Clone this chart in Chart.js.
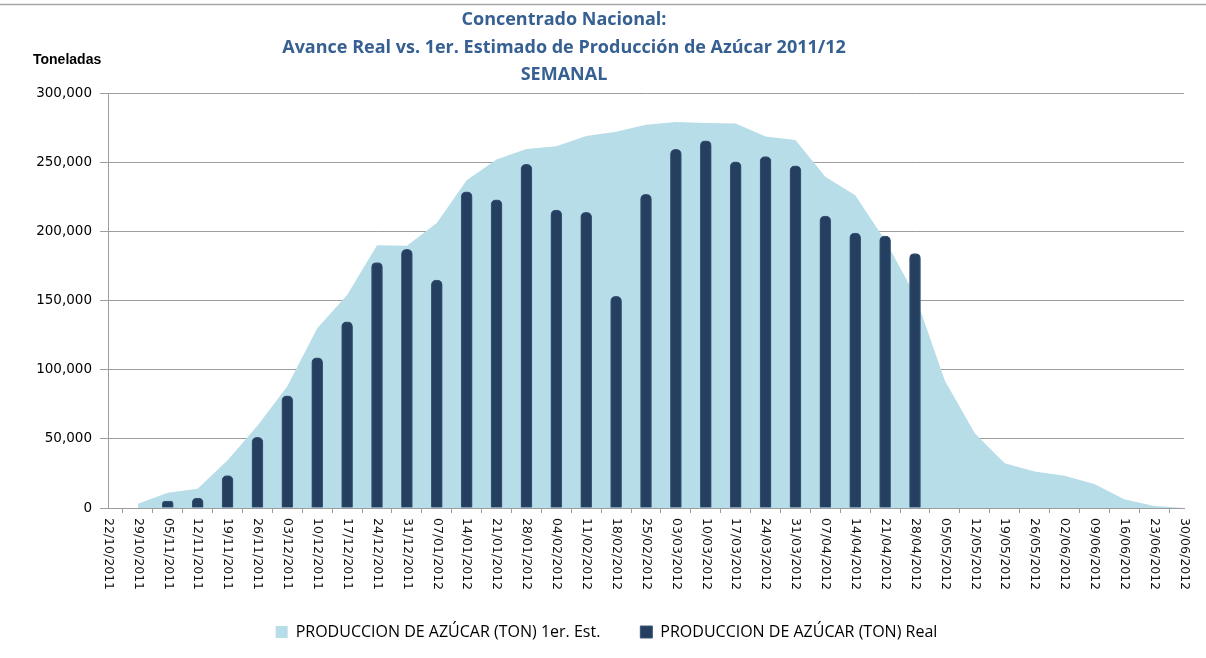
<!DOCTYPE html>
<html>
<head>
<meta charset="utf-8">
<script src="https://cdn.jsdelivr.net/npm/chart.js@4"></script>
<style>
  html, body { margin: 0; padding: 0; background: #fff; }
  #wrap { width: 1206px; height: 658px; position: relative; }
</style>
</head>
<body>
<div id="wrap"><canvas id="chart"></canvas></div>
<script>
// Semanas (eje X)
const semanas = [
  '22/10/2011', '29/10/2011', '05/11/2011', '12/11/2011', '19/11/2011', '26/11/2011',
  '03/12/2011', '10/12/2011', '17/12/2011', '24/12/2011', '31/12/2011', '07/01/2012',
  '14/01/2012', '21/01/2012', '28/01/2012', '04/02/2012', '11/02/2012', '18/02/2012',
  '25/02/2012', '03/03/2012', '10/03/2012', '17/03/2012', '24/03/2012', '31/03/2012',
  '07/04/2012', '14/04/2012', '21/04/2012', '28/04/2012', '05/05/2012', '12/05/2012',
  '19/05/2012', '26/05/2012', '02/06/2012', '09/06/2012', '16/06/2012', '23/06/2012',
  '30/06/2012'
];

// PRODUCCION DE AZÚCAR (TON) 1er. Est.
const estimado = [
  null, 3000, 11000, 14000, 34500, 59500,
  88000, 130000, 154000, 190000, 189500, 206000,
  237000, 252000, 259500, 261500, 269000, 272000,
  277000, 279000, 278300, 278000, 268500, 266000,
  239500, 226000, 193500, 154000, 92000, 54000,
  32300, 26300, 23400, 17300, 6300, 1400,
  0
];

// PRODUCCION DE AZÚCAR (TON) Real
const real = [
  null, null, 5000, 7200, 23500, 51000,
  81000, 108500, 134500, 177500, 187000, 164800,
  228600, 222700, 248500, 215400, 213700, 153000,
  226700, 259300, 265500, 250300, 254000, 247400,
  211000, 198800, 196500, 184000, null, null,
  null, null, null, null, null, null,
  null
];

const titulo = [
  'Concentrado Nacional:',
  'Avance Real vs. 1er. Estimado de Producción de Azúcar 2011/12',
  'SEMANAL'
];

// title, axis name, frame line and the rotated week labels
const decor = {
  id: 'decor',
  beforeDraw(chart) {
    const ctx = chart.ctx;
    ctx.save();
    ctx.fillStyle = '#fff';
    ctx.fillRect(0, 0, chart.width, chart.height);
    ctx.restore();
  },
  afterDraw(chart) {
    const ctx = chart.ctx;
    ctx.save();
    ctx.strokeStyle = '#a6a6a6';
    ctx.lineWidth = 1.5;
    ctx.beginPath();
    ctx.moveTo(0, 4.5);
    ctx.lineTo(chart.width, 4.5);
    ctx.stroke();

    ctx.fillStyle = '#376092';
    ctx.font = 'bold 18px "Open Sans"';
    ctx.textAlign = 'center';
    ctx.textBaseline = 'middle';
    titulo.forEach((t, i) => ctx.fillText(t, 564, 20 + i * 27.5));

    ctx.fillStyle = '#000';
    ctx.font = 'bold 14px "Liberation Sans"';
    ctx.textAlign = 'left';
    ctx.fillText('Toneladas', 33, 60);

    const xs = chart.scales.x;
    ctx.font = '12.5px "DejaVu Sans"';
    ctx.fillStyle = '#111';
    xs.ticks.forEach((tk, i) => {
      ctx.save();
      ctx.translate(xs.getPixelForTick(i), xs.top + 10);
      ctx.rotate(Math.PI / 2);
      ctx.fillText(semanas[i], 0, 0);
      ctx.restore();
    });
    ctx.restore();
  }
};

new Chart(document.getElementById('chart'), {
  data: {
    labels: semanas,
    datasets: [
      {
        type: 'line',
        label: 'PRODUCCION DE AZÚCAR (TON) 1er. Est.',
        data: estimado,
        backgroundColor: '#b7dde8',
        borderColor: '#b7dde8',
        borderWidth: 0,
        pointRadius: 0,
        tension: 0,
        fill: 'origin',
        order: 2
      },
      {
        type: 'bar',
        label: 'PRODUCCION DE AZÚCAR (TON) Real',
        data: real,
        backgroundColor: '#243f60',
        borderColor: '#3d5676',
        borderWidth: 1,
        barThickness: 11,
        borderRadius: { topLeft: 5, topRight: 5, bottomLeft: 0, bottomRight: 0 },
        borderSkipped: 'bottom',
        order: 1
      }
    ]
  },
  options: {
    responsive: true,
    maintainAspectRatio: false,
    animation: false,
    layout: { padding: { top: 93, left: 29, right: 22, bottom: 14 } },
    plugins: {
      tooltip: { enabled: false },
      title: { display: false },
      legend: {
        position: 'bottom',
        maxHeight: 60,
        labels: {
          sort: (a, b) => a.datasetIndex - b.datasetIndex,
          boxWidth: 12,
          boxHeight: 12,
          padding: 40,
          color: '#000',
          font: { family: '"Open Sans"', size: 16 }
        }
      }
    },
    scales: {
      x: {
        offset: false,
        grid: { display: true, drawOnChartArea: false, drawTicks: true, tickLength: 5, color: '#9d9d9d' },
        border: { color: '#9d9d9d' },
        ticks: { display: false, autoSkip: false },
        afterFit: (scale) => { scale.height = 76; }
      },
      y: {
        min: 0,
        max: 300000,
        grid: { color: '#9d9d9d', tickLength: 8 },
        border: { color: '#9d9d9d' },
        ticks: {
          stepSize: 50000,
          padding: 8,
          color: '#000',
          font: { family: '"DejaVu Sans"', size: 13.5 },
          callback: (v) => v.toLocaleString('en-US')
        },
        afterFit: (scale) => { scale.width = 79; }
      }
    }
  },
  plugins: [decor]
});
</script>
</body>
</html>
